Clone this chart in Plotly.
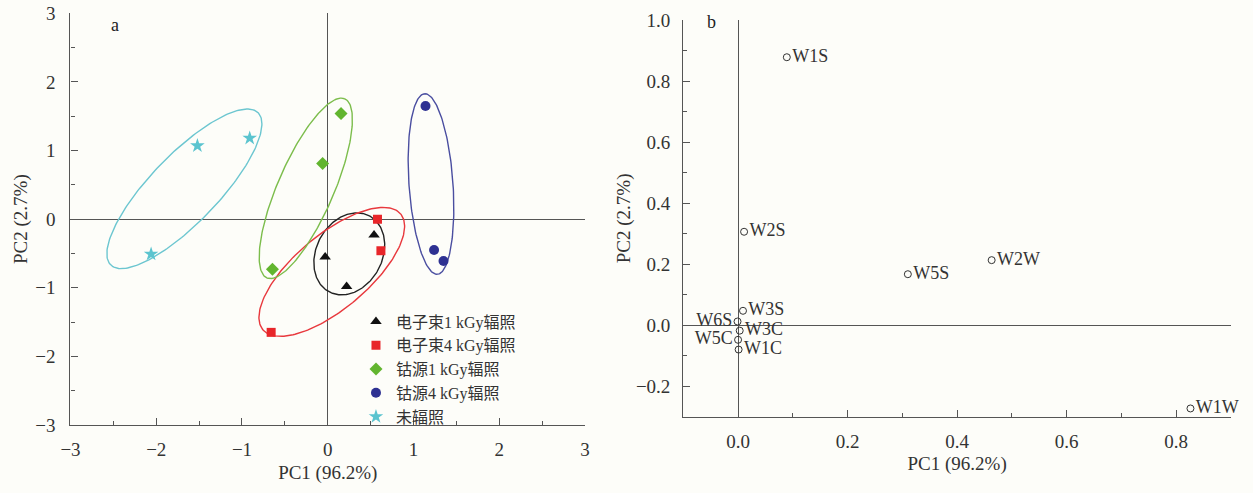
import numpy as np
import plotly.graph_objects as go

# ---------------- Panel a data ----------------
group_names = ["电子束1 kGy辐照", "电子束4 kGy辐照", "钴源1 kGy辐照", "钴源4 kGy辐照", "未辐照"]
eb1_x = [0.54, -0.03, 0.22]
eb1_y = [-0.23, -0.55, -0.98]
eb4_x = [0.58, 0.62, -0.66]
eb4_y = [0.00, -0.46, -1.65]
co1_x = [0.155, -0.06, -0.645]
co1_y = [1.54, 0.81, -0.73]
co4_x = [1.14, 1.24, 1.35]
co4_y = [1.65, -0.45, -0.61]
un_x = [-2.06, -1.52, -0.91]
un_y = [-0.51, 1.07, 1.18]

# ellipses: center, half-vector 1, half-vector 2 (data units)
ell_cx = [0.251, 0.047, -0.256, 1.204, -1.672]
ell_cy = [-0.506, -0.768, 0.449, 0.512, 0.442]
ell_ux = [0.235, 0.803, 0.454, -0.074, 0.858]
ell_uy = [0.553, 0.844, 1.305, 1.316, 1.111]
ell_vx = [-0.340, -0.277, -0.299, -0.256, -0.285]
ell_vy = [0.226, 0.413, 0.163, -0.022, 0.344]

# ---------------- Panel b data ----------------
sensors = ["W1S", "W2S", "W5S", "W2W", "W1W", "W3S", "W6S", "W3C", "W5C", "W1C"]
load_pc1 = [0.089, 0.011, 0.310, 0.463, 0.826, 0.009, -0.001, 0.003, 0.000, 0.001]
load_pc2 = [0.878, 0.306, 0.167, 0.213, -0.273, 0.047, 0.012, -0.018, -0.048, -0.080]
label_pos = ["middle right", "middle right", "middle right", "middle right", "middle right",
             "middle right", "middle left", "middle right", "middle left", "middle right"]

colors = ["#111111", "#e8262a", "#62b52f", "#2e3192", "#5bc4cf"]
ell_colors = ["#222222", "#e8383d", "#7cbd4c", "#4a4ea0", "#6cc6d0"]
symbols = ["triangle-up", "square", "diamond", "circle", "star"]
sizes = [10, 9, 10, 10, 11]

FONT = "Liberation Serif, Times New Roman, Noto Sans CJK SC, serif"
AX = "#555555"
BG = "#fdfdf9"

fig = go.Figure()

groups_x = [eb1_x, eb4_x, co1_x, co4_x, un_x]
groups_y = [eb1_y, eb4_y, co1_y, co4_y, un_y]

t = np.linspace(0, 2 * np.pi, 200)
for i in range(5):
    ex = ell_cx[i] + ell_ux[i] * np.cos(t) + ell_vx[i] * np.sin(t)
    ey = ell_cy[i] + ell_uy[i] * np.cos(t) + ell_vy[i] * np.sin(t)
    fig.add_trace(go.Scatter(x=ex, y=ey, mode="lines", line=dict(color=ell_colors[i], width=1.4),
                             showlegend=False, hoverinfo="skip", xaxis="x", yaxis="y"))

for i in range(5):
    fig.add_trace(go.Scatter(x=groups_x[i], y=groups_y[i], mode="markers", name=group_names[i],
                             marker=dict(symbol=symbols[i], color=colors[i], size=sizes[i]),
                             xaxis="x", yaxis="y"))

fig.add_trace(go.Scatter(x=load_pc1, y=load_pc2, mode="markers+text", text=sensors,
                         textposition=label_pos, cliponaxis=False,
                         textfont=dict(family=FONT, size=18, color="#333333"),
                         marker=dict(symbol="circle-open", color="#333333", size=7, line=dict(width=1)),
                         showlegend=False, xaxis="x2", yaxis="y2"))

common = dict(showgrid=False, showline=True, linecolor=AX, linewidth=1.3, mirror=False,
              ticks="inside", ticklen=7, tickwidth=1.2, tickcolor=AX,
              zeroline=True, zerolinecolor=AX, zerolinewidth=1.3,
              tickfont=dict(family=FONT, size=19, color="#333333"),
              title_font=dict(family=FONT, size=19, color="#333333"),
              automargin=False, ticklabeloverflow="allow")

fig.update_layout(
    width=1253, height=493,
    margin=dict(l=0, r=0, t=0, b=0),
    paper_bgcolor=BG, plot_bgcolor=BG,
    font=dict(family=FONT, color="#333333"),
    xaxis=dict(domain=[0.05626, 0.46688], range=[-3, 3], dtick=1, anchor="y", ticklabelstandoff=7,
               minor=dict(ticks="inside", ticklen=4, dtick=0.5, tickcolor=AX),
               title=dict(text="PC1 (96.2%)", standoff=6), **common),
    yaxis=dict(domain=[0.13793, 0.97302], range=[-3, 3], dtick=1, anchor="x", ticklabelstandoff=10,
               minor=dict(ticks="inside", ticklen=4, dtick=0.5, tickcolor=AX),
               title=dict(text="PC2 (2.7%)", standoff=2), **common),
    xaxis2=dict(domain=[0.54533, 0.98244], range=[-0.1, 0.9], dtick=0.2, tick0=0, tickformat=".1f",
                anchor="y2", ticklabelstandoff=7,
                minor=dict(ticks="inside", ticklen=4, dtick=0.1, tickcolor=AX),
                title=dict(text="PC1 (96.2%)", standoff=6), **common),
    yaxis2=dict(domain=[0.15477, 0.95943], range=[-0.3, 1.0], dtick=0.2, tick0=0, tickformat=".1f",
                anchor="x2", ticklabelstandoff=8,
                minor=dict(ticks="inside", ticklen=4, dtick=0.1, tickcolor=AX),
                title=dict(text="PC2 (2.7%)", standoff=0), **common),
    legend=dict(x=0.2841, y=0.3824, xanchor="left", yanchor="top", bgcolor="rgba(0,0,0,0)",
                font=dict(family=FONT, size=16, color="#333333"), tracegroupgap=0,
                itemwidth=30),
    showlegend=True,
    annotations=[
        dict(text="a", xref="x domain", yref="y domain", x=0.0865, y=0.972, showarrow=False,
             xanchor="center", yanchor="middle",
             font=dict(family=FONT, size=18, color="#222222")),
        dict(text="b", xref="x2 domain", yref="y2 domain", x=0.0506, y=0.995, showarrow=False,
             xanchor="center", yanchor="middle",
             font=dict(family=FONT, size=18, color="#222222")),
    ],
)

fig.write_html("out.html", config={"displayModeBar": False},
               post_script="document.body.style.margin='0px';")
